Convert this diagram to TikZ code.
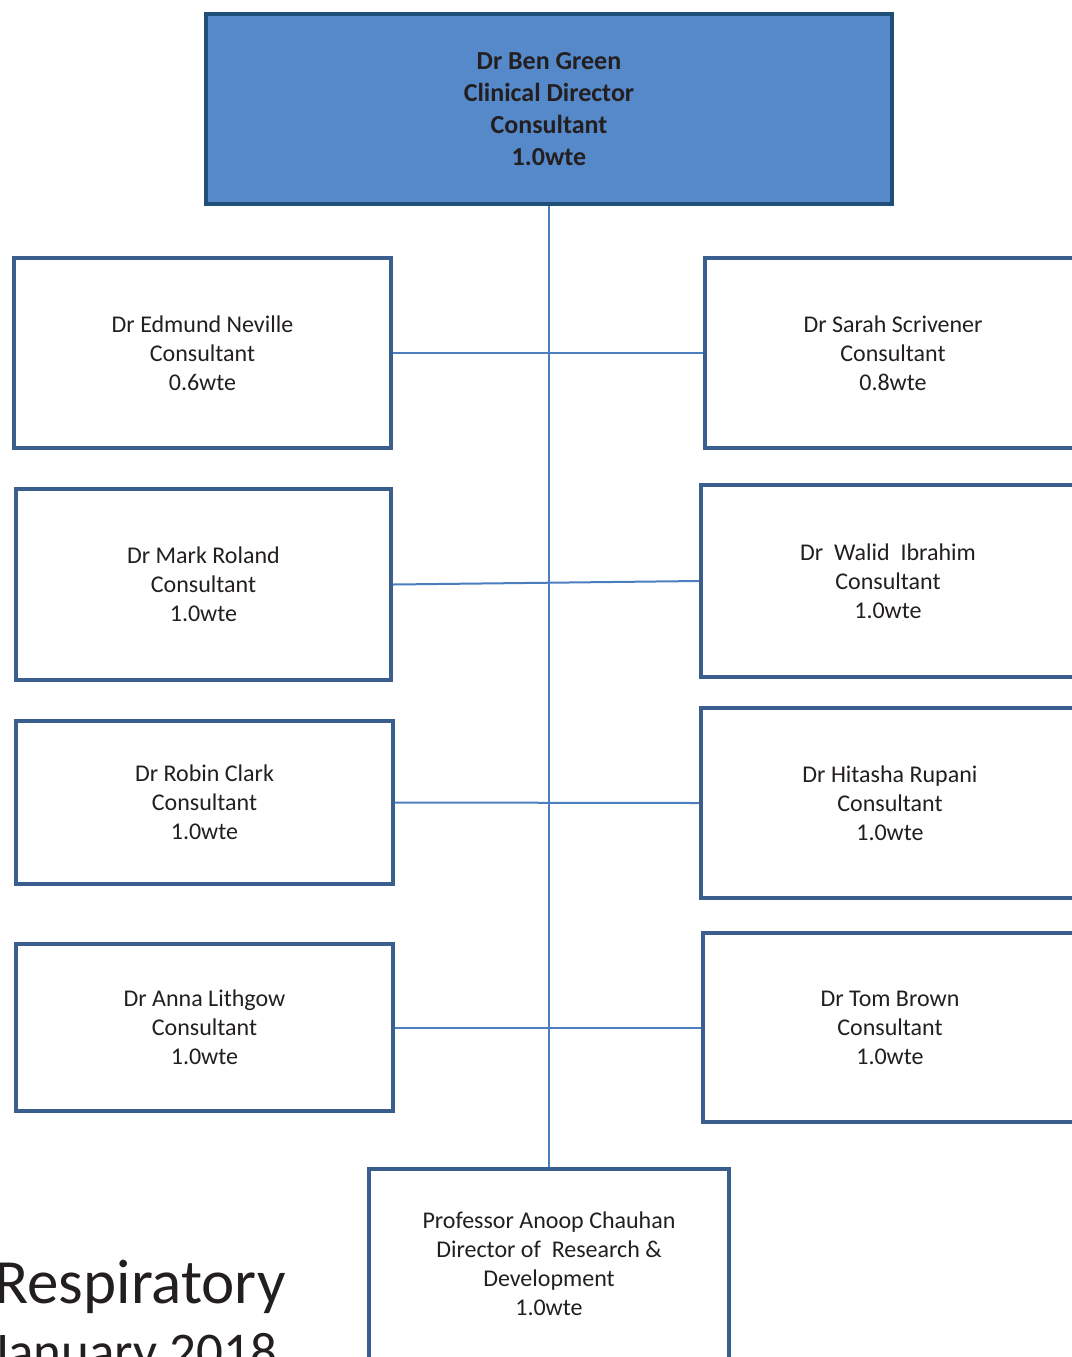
\documentclass[tikz,border=0pt]{standalone}
\usepackage{fontspec}
\setmainfont{Carlito}
\usepackage{tikz}
\usetikzlibrary{positioning}

\definecolor{leadfill}{HTML}{5589C9}
\definecolor{leadedge}{HTML}{1F4E79}
\definecolor{staffedge}{HTML}{3A5F8F}
\definecolor{linkblue}{HTML}{4A7EBF}
\definecolor{inkgrey}{HTML}{231F20}

\begin{document}
\begin{tikzpicture}[
		    x=0.5pt, y=-0.5pt,
		    staff/.style={draw=staffedge, line width=2pt, fill=white, align=center,
		        text=inkgrey, inner sep=0pt, font=\fontsize{12}{14.5}\selectfont},
		    lead/.style={staff, draw=leadedge, fill=leadfill,
		        font=\bfseries\fontsize{13}{16}\selectfont},
		    link/.style={draw=linkblue, line width=1pt},
		    heading/.style={anchor=base west, inner sep=0pt, text=inkgrey,
		        font=\fontsize{31.5}{36}\selectfont}
		]
		\useasboundingbox (0, 0) rectangle (1072, 1357);
		\clip (0, 0) rectangle (1072, 1357);
		% connectors first, boxes on top
		\coordinate (Top) at (549, 206);
		\coordinate (Bottom) at (549, 1167);
		\draw[link] (Top) -- (Bottom);
		\node[lead, minimum width=343pt, minimum height=95pt] (Green) at (549, 109) {Dr Ben Green\\Clinical Director\\Consultant\\1.0wte};
		\node[staff, minimum width=188.5pt, minimum height=95pt] (Neville) at (202.5, 353) {Dr Edmund Neville\\Consultant\\0.6wte};
		\node[staff, minimum width=188pt, minimum height=95pt] (Scrivener) at (893, 353) {Dr Sarah Scrivener\\Consultant\\0.8wte};
		\node[staff, minimum width=187.5pt, minimum height=95.5pt] (Roland) at (203.5, 584.5) {Dr Mark Roland\\Consultant\\1.0wte};
		\node[staff, minimum width=187pt, minimum height=96pt] (Ibrahim) at (888, 581) {Dr\ \ Walid\ \ Ibrahim\\Consultant\\1.0wte};
		\node[staff, minimum width=188.5pt, minimum height=81.5pt] (Clark) at (204.5, 802.5) {Dr Robin Clark\\Consultant\\1.0wte};
		\node[staff, minimum width=189pt, minimum height=95pt] (Rupani) at (890, 803) {Dr Hitasha Rupani\\Consultant\\1.0wte};
		\node[staff, minimum width=188.5pt, minimum height=83.5pt] (Lithgow) at (204.5, 1027.5) {Dr Anna Lithgow\\Consultant\\1.0wte};
		\node[staff, minimum width=187pt, minimum height=94.5pt] (Brown) at (890, 1027.5) {Dr Tom Brown\\Consultant\\1.0wte};
		\node[staff, minimum width=180pt, minimum height=95pt] (Chauhan) at (549, 1264) {Professor Anoop Chauhan\\Director of\ \ Research \&\\Development\\1.0wte};
		\draw[link] (Neville.east) -- (Scrivener.west);
		\draw[link] (Roland.east) -- (Ibrahim.west);
		\draw[link] (Clark.east) -- (Rupani.west);
		\draw[link] (Lithgow.east) -- (Brown.west);
		\node[heading] (Title) at (-6, 1303) {Respiratory};
		\node[heading, font=\fontsize{26.5}{30}\selectfont] (Date) at (-9, 1369) {January 2018};
	\end{tikzpicture}
\end{document}
